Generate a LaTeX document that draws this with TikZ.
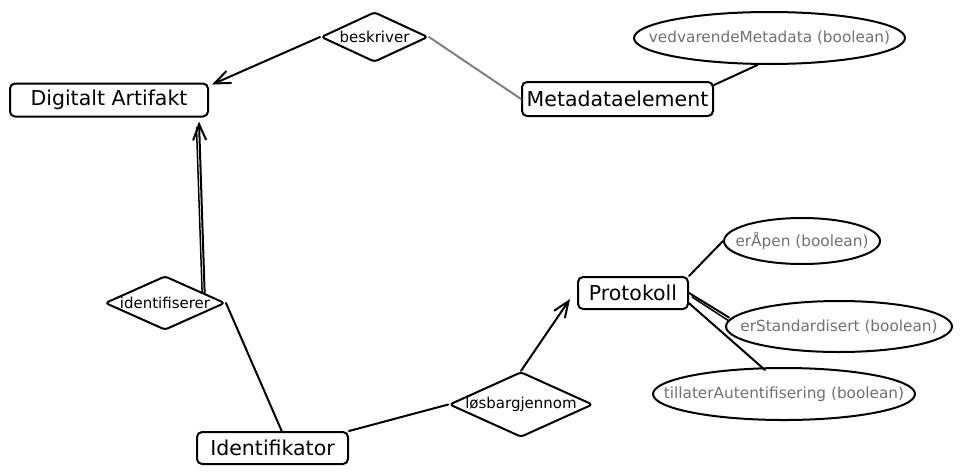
\documentclass[tikz,border=0pt]{standalone}
\usepackage{fontspec}
\setmainfont{DejaVu Sans}
\usetikzlibrary{shapes.geometric,arrows.meta,calc}
\definecolor{attrgray}{RGB}{112,112,112}
\definecolor{linkgray}{RGB}{128,128,128}
\begin{document}
\begin{tikzpicture}[x=1pt,y=-1pt,line join=round,line cap=round,
 entity/.style={draw=black, line width=2pt, rounded corners=5pt, inner sep=0pt, font=\fontsize{20.5}{24}\selectfont},
 rel/.style={draw=black, line width=2pt, shape=diamond, aspect=2.2, rounded corners=3pt, inner sep=0pt, font=\fontsize{15}{18}\selectfont},
 attr/.style={draw=black, line width=2pt, ellipse, inner sep=0pt},
 attrtext/.style={text=attrgray, inner sep=0pt, font=\fontsize{15.3}{18}\selectfont},
 link/.style={line width=2pt, draw=black},
 glink/.style={line width=2pt, draw=linkgray},
 arr/.style={link, -{Straight Barb[length=16pt,width=13pt,line width=2pt]}}
]
\useasboundingbox (0,0) rectangle (976,474);

% entities
\node[entity, minimum width=198pt, minimum height=33pt] (da) at (109,100) {Digitalt Artifakt};
\node[entity, minimum width=191pt, minimum height=34pt] (meta) at (617.5,99) {Metadataelement};
\node[entity, minimum width=151pt, minimum height=32pt] (idf) at (272.5,448) {Identifikator};
\node[entity, minimum width=110pt, minimum height=32pt] (prot) at (633,293) {Protokoll};

% relationships
\node[rel, minimum width=107pt, minimum height=50pt] (besk) at (374.5,37) {beskriver};
\node[rel, minimum width=120pt, minimum height=54pt] (ident) at (165,303) {identifiserer};
\node[rel, minimum width=124pt, minimum height=59pt] (losb) at (521,404.5) {løsbargjennom};

% attributes
\node[attr, minimum width=271pt, minimum height=52pt] (vedv) at (769.5,38) {};
\node[attrtext] (vedvt) at (vedv) {vedvarendeMetadata (boolean)};
\node[attr, minimum width=156pt, minimum height=46pt] (erA) at (802,241) {};
\node[attrtext] (erAt) at (erA) {erÅpen (boolean)};
\node[attr, minimum width=226pt, minimum height=51pt] (erS) at (839,326.5) {};
\node[attrtext] (erSt) at (erS) {erStandardisert (boolean)};
\node[attr, minimum width=262pt, minimum height=52pt] (till) at (784,394) {};
\node[attrtext] (tillt) at (till) {tillaterAutentifisering (boolean)};

% connectors
\draw[arr] (besk.west) -- ($(da.north east)+(3,2)$);
\draw[glink] (besk.east) -- (meta.west);
\draw[link] ($(meta.north east)+(0,4)$) -- ($(vedv.south)+(-12,0)$);

\coordinate (identtop) at ($(ident.north)!0.65!(ident.east)$);
\coordinate (dabot) at ($(da.south east)!0.05!(da.south west)+(0,4)$);
\draw[arr] (identtop) -- (dabot);
\draw[link, line width=1.5pt] ($(identtop)+(-2.5,0)$) -- ($(dabot)+(-2.5,6)$);
\draw[link] (ident.east) -- ($(idf.north west)!0.56!(idf.north east)$);
\draw[link] (idf.north east) -- (losb.west);
\draw[arr] (losb.north) -- ($(prot.south west)+(-7,-11)$);

\draw[link] (prot.north east) -- (erA.west);
\coordinate (erSin) at ($(erS.west)+(4,-9)$);
\draw[link] (prot.east) -- (erSin);
\draw[link, line width=1.5pt] ($(prot.east)+(3,4)$) -- ($(erSin)+(0,3.5)$);
\draw[link] ($(prot.east)!0.6!(prot.south east)$) -- ($(till.north)+(-19,3)$);
\end{tikzpicture}
\end{document}
